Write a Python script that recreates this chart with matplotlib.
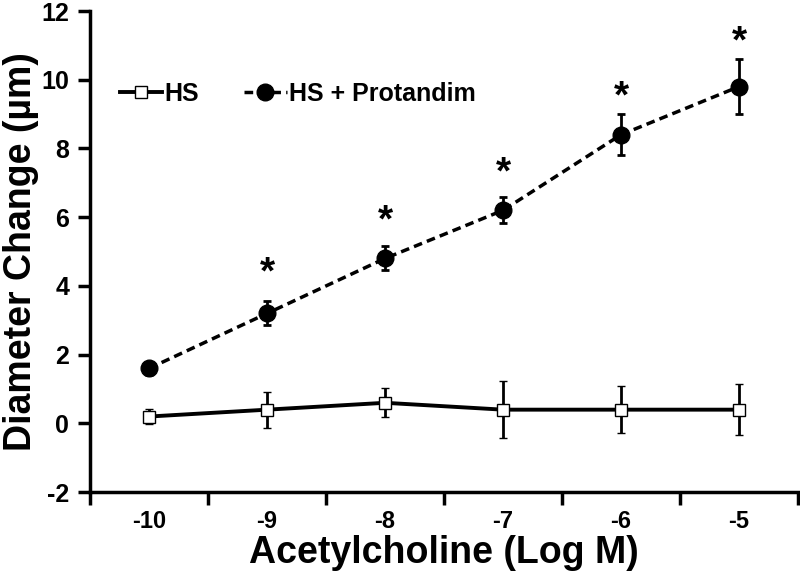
import matplotlib.pyplot as plt
from matplotlib.lines import Line2D

plt.rcParams['font.family'] = ['Liberation Sans', 'DejaVu Sans']
plt.rcParams['font.weight'] = 'bold'
plt.rcParams['axes.unicode_minus'] = False

doses = ['-10', '-9', '-8', '-7', '-6', '-5']
hs_mean = [0.2, 0.4, 0.6, 0.4, 0.4, 0.4]
hs_err = [0.22, 0.52, 0.42, 0.82, 0.68, 0.75]
prot_mean = [1.6, 3.2, 4.8, 6.2, 8.4, 9.8]
prot_err = [0.2, 0.35, 0.35, 0.38, 0.6, 0.8]
star_y = [None, 3.85, 5.35, 6.75, 8.95, 10.55]

x = list(range(1, len(doses) + 1))

fig = plt.figure(figsize=(8, 5.79), dpi=100)
ax = fig.add_axes([0.1125, 0.15, 0.885, 0.831])

ax.errorbar(x, hs_mean, yerr=hs_err, color='black', lw=2.8, marker='s', ms=8,
            mfc='white', mec='black', mew=1.0, elinewidth=2, capsize=3, capthick=2,
            zorder=3)
ax.errorbar(x, prot_mean, yerr=prot_err, color='black', lw=2.5, ls=(0, (2.5, 1.5)),
            marker='o', ms=12, mfc='black', mec='black', elinewidth=2, capsize=3,
            capthick=2, zorder=3)

for xi, sy in zip(x, star_y):
    if sy is not None:
        ax.text(xi, sy, '*', ha='center', va='bottom', fontsize=28, fontweight='bold')

ax.set_xlim(0.5, 6.5)
ax.set_ylim(-2, 12)
ax.set_xticks([i + 0.5 for i in range(0, 7)])
ax.set_xticklabels([])
ax.set_xticks(x, minor=True)
ax.set_xticklabels(doses, minor=True, fontsize=17, fontweight='bold')
ax.tick_params(axis='x', which='minor', length=0, pad=13)
ax.tick_params(axis='x', which='major', length=9, width=2.5, direction='out')
ax.set_yticks(range(-2, 13, 2))
ax.tick_params(axis='y', length=9, width=2.5, direction='out', labelsize=18, pad=6)
for lbl in ax.get_yticklabels():
    lbl.set_fontweight('bold')

for s in ['top', 'right']:
    ax.spines[s].set_visible(False)
for s in ['left', 'bottom']:
    ax.spines[s].set_linewidth(2.5)

ax.set_xlabel('Acetylcholine (Log M)', fontsize=27, fontweight='bold', labelpad=1)
ax.set_ylabel('Diameter Change (µm)', fontsize=27, fontweight='bold', labelpad=2)

handles = [
    Line2D([], [], color='black', lw=2.8, marker='s', ms=8, mfc='white', mec='black', mew=1.0),
    Line2D([], [], color='black', lw=2.5, ls=(0, (2.5, 1.5)), marker='o', ms=12,
           mfc='black', mec='black'),
]
ax.legend(handles, ['HS', 'HS + Protandim'], loc='upper left', bbox_to_anchor=(0.01, 0.9),
          ncol=2, frameon=False, handlelength=1.7, handletextpad=0.1, columnspacing=1.8,
          prop={'weight': 'bold', 'size': 18})

fig.savefig('out.png', dpi=100)
